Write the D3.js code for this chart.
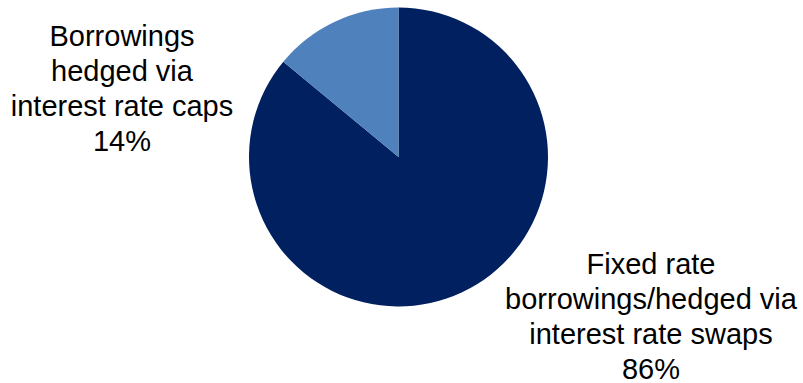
<!DOCTYPE html>
<html>
<head>
<meta charset="utf-8">
<script src="https://cdn.jsdelivr.net/npm/d3@7/dist/d3.min.js"></script>
<style>
  html, body { margin: 0; padding: 0; background: #ffffff; }
  svg { display: block; }
  text { font-family: "Liberation Sans", Arial, sans-serif; fill: #000000; }
</style>
</head>
<body>
<div id="chart"></div>
<script>
// Share of borrowings by hedging method (%)
const categories = [
  "Fixed rate borrowings/hedged via interest rate swaps",
  "Borrowings hedged via interest rate caps"
];
const values = [86, 14];
const labelLines = [
  ["Fixed rate", "borrowings/hedged via", "interest rate swaps"],
  ["Borrowings", "hedged via", "interest rate caps"]
];
const colors = ["#002060", "#4f81bd"];

const width = 803, height = 383;
const svg = d3.select("#chart").append("svg")
  .attr("width", width).attr("height", height);

const cx = 398.5, cy = 157, radius = 149.5;

const pie = d3.pie().sort(null).value(d => d.value);
const arc = d3.arc().innerRadius(0).outerRadius(radius);

const data = categories.map((c, i) => ({ name: c, value: values[i], lines: labelLines[i], color: colors[i] }));
const arcs = pie(data);

const g = svg.append("g").attr("transform", `translate(${cx},${cy})`);
g.selectAll("path").data(arcs).enter().append("path")
  .attr("d", arc)
  .attr("fill", d => d.data.color);

// Data labels: category lines followed by the percentage
const fontSize = 29, lineGap = 35;
const labelAnchors = [
  { x: 651, y: 273.5 },  // large slice, lower right
  { x: 122, y: 46 }      // small slice, upper left
];

arcs.forEach((a, i) => {
  const lines = a.data.lines.concat([d3.format(".0f")(a.data.value) + "%"]);
  const t = svg.append("text")
    .attr("text-anchor", "middle")
    .style("font-size", fontSize + "px");
  lines.forEach((ln, k) => {
    t.append("tspan")
      .attr("x", labelAnchors[i].x)
      .attr("y", labelAnchors[i].y + k * lineGap)
      .text(ln);
  });
});
</script>
</body>
</html>
